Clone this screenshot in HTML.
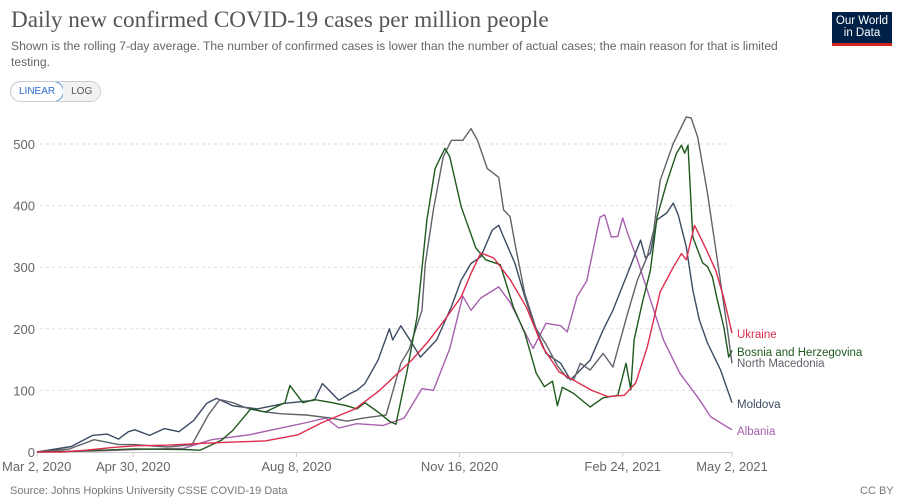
<!DOCTYPE html>
<html><head><meta charset="utf-8"><style>
body{margin:0;width:900px;height:503px;background:#fff;font-family:"Liberation Sans",sans-serif;overflow:hidden;position:relative}
.t{position:absolute;white-space:nowrap}
</style></head><body>
<div class="t" style="left:11px;top:7px;font-family:'Liberation Serif',serif;font-size:23.2px;color:#555">Daily new confirmed COVID-19 cases per million people</div>
<div class="t" style="left:11px;top:38px;font-size:12.1px;color:#666;line-height:16px">Shown is the rolling 7-day average. The number of confirmed cases is lower than the number of actual cases; the main reason for that is limited<br>testing.</div>
<div style="position:absolute;left:832px;top:12px;width:60px;height:34px;background:#002147;border-bottom:3px solid #ce261e;color:#fff;font-size:11.5px;line-height:12px;text-align:center;padding-top:3px;box-sizing:border-box">Our World<br>in Data</div>
<div style="position:absolute;left:10px;top:81px;height:19px;border:1px solid #ccc;border-radius:11px;display:flex;font-size:10px;overflow:hidden">
<div style="padding:0 8px;line-height:19px;color:#2a6ad0;border:1px solid #5b8fd8;border-radius:11px;margin:-1px">LINEAR</div>
<div style="padding:0 8px;line-height:19px;color:#555;background:#f2f2f2">LOG</div></div>
<svg id="c" width="900" height="503" style="position:absolute;left:0;top:0"></svg>
<div class="t" style="left:10px;top:485px;font-size:11px;color:#777">Source: Johns Hopkins University CSSE COVID-19 Data</div>
<div class="t" style="left:860px;top:485px;font-size:11px;color:#777">CC BY</div>
<script>
const yTicks=[0,100,200,300,400,500];
const xTickDays=[0,59,159,259,359,426];
const xTickLabels=["Mar 2, 2020","Apr 30, 2020","Aug 8, 2020","Nov 16, 2020","Feb 24, 2021","May 2, 2021"];
const names=["Ukraine","Bosnia and Herzegovina","North Macedonia","Moldova","Albania"];
const ukrDays=[0,15,30,45,60,80,100,120,140,160,175,195,210,220,230,240,250,260,266,272,280,290,300,310,320,330,340,350,360,367,374,382,390,395,398,403,410,416,421,426];
const ukrVals=[0,0,3,7,10,11,14,16,18,28,48,70,100,125,150,180,215,252,290,323,315,280,235,170,130,115,100,90,92,112,170,260,300,322,312,368,330,295,250,193];
const bihDays=[0,30,60,90,100,113,120,131,140,148,152,155,163,170,181,190,196,201,209,216,220,227,233,239,244,250,253,260,269,275,284,292,299,306,311,316,319,322,329,339,347,356,361,364,366,371,374,376,380,386,392,395,397,399,402,408,411,414,417,421,424,426];
const bihVals=[0,2,5,4,3,19,35,70,65,75,80,108,80,85,80,75,70,80,65,50,45,133,220,377,460,493,479,398,331,312,304,235,193,128,106,115,75,105,95,73,88,92,144,101,182,242,274,295,381,437,485,498,485,498,349,307,301,284,247,203,154,165];
const mkdDays=[0,20,35,50,60,80,95,105,112,120,130,140,150,165,180,190,200,214,223,228,236,238,243,249,254,261,266,270,276,283,286,290,293,299,306,312,319,325,329,333,339,347,353,362,368,374,378,382,390,398,401,405,411,417,423,426];
const mkdVals=[0,5,20,12,12,8,12,60,85,80,70,65,62,60,55,50,55,60,144,166,230,306,393,479,506,506,525,506,460,446,393,382,338,257,200,175,140,120,117,144,133,160,138,225,279,317,360,441,501,544,542,511,420,312,203,144];
const mdaDays=[0,21,34,43,50,56,60,69,78,87,96,104,110,120,135,152,170,175,185,192,196,201,209,216,218,223,230,235,245,254,260,266,272,279,283,286,293,299,306,312,321,327,339,347,353,362,370,373,376,380,386,390,393,398,402,406,411,419,426];
const mdaVals=[0,9,27,29,21,33,36,27,38,33,51,79,87,75,70,79,84,111,84,95,100,111,149,200,182,205,176,154,182,236,279,306,317,360,368,349,306,252,198,160,144,117,149,198,230,290,344,315,323,377,388,404,385,333,263,214,177,133,80];
const albDays=[0,40,60,90,107,130,164,177,185,196,212,225,236,243,253,261,266,272,283,290,304,312,321,325,331,337,345,348,352,356,359,362,368,376,384,394,405,413,426];
const albVals=[0,2,4,6,20,28,47,55,39,46,43,55,103,100,168,253,230,250,268,243,168,209,205,195,252,278,381,385,349,350,380,355,312,247,182,128,89,57,36];
const X0=37,X1=732,DMAX=426,Y0=452,YS=0.616;
const xs=d=>X0+(X1-X0)*d/DMAX, ys=v=>Y0-v*YS;
const svg=document.getElementById('c'),NS='http://www.w3.org/2000/svg';
function mk(t,a,p){const e=document.createElementNS(NS,t);for(const k in a)e.setAttribute(k,a[k]);(p||svg).appendChild(e);return e;}
yTicks.forEach(v=>{
 if(v>0){const g=mk('line',{x1:40,x2:732,y1:ys(v),y2:ys(v),stroke:'#ddd','stroke-dasharray':'3,3'});
 
 }
 const t=mk('text',{x:35,y:ys(v)+5,'text-anchor':'end','font-size':13,fill:'#666','font-family':'Liberation Sans'});t.textContent=v;
 
 
});
const ax=mk('line',{x1:37,x2:732,y1:452.5,y2:452.5,stroke:'#ccc'});


xTickDays.forEach((d,i)=>{
 mk('line',{x1:xs(d),x2:xs(d),y1:452,y2:457,stroke:'#ccc'});
 const t=mk('text',{x:i==0?2:xs(d),y:471,'text-anchor':i==0?'start':'middle','font-size':13,fill:'#666','font-family':'Liberation Sans'});t.textContent=xTickLabels[i];
 
 
});
const series=[[albDays,albVals,'#a660ad'],[mdaDays,mdaVals,'#3b4b63'],[mkdDays,mkdVals,'#60636a'],[bihDays,bihVals,'#1e5a1e'],[ukrDays,ukrVals,'#dd2c4c']];
const sNames=['Albania','Moldova','North Macedonia','Bosnia and Herzegovina','Ukraine'];
series.forEach((s,i)=>{
 const d=s[0].map((dd,j)=>(j?'L':'M')+xs(dd).toFixed(1)+','+ys(s[1][j]).toFixed(1)).join('');
 const p=mk('path',{d:d,fill:'none',stroke:s[2],'stroke-width':1.4,'stroke-linejoin':'round'});
 
 
});
const labY={'Ukraine':338,'Bosnia and Herzegovina':356,'North Macedonia':367,'Moldova':408,'Albania':435};
const labC={'Ukraine':'#dd2c4c','Bosnia and Herzegovina':'#1e5a1e','North Macedonia':'#60636a','Moldova':'#3b4b63','Albania':'#a660ad'};
names.forEach(n=>{
 const t=mk('text',{x:737,y:labY[n],'font-size':11.5,fill:labC[n],'font-family':'Liberation Sans'});t.textContent=n;
 
 
});
</script>
</body></html>
